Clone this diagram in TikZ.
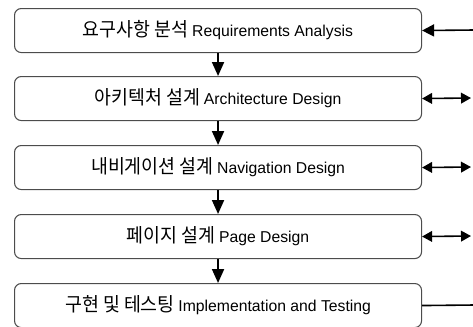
\documentclass[tikz,border=0pt]{standalone}
\usepackage{fontspec}
\setmainfont{Liberation Sans}
\newfontfamily\kr{Noto Sans CJK KR}[FakeStretch=0.95]
\usetikzlibrary{arrows.meta}
\tikzset{
  stagebox/.style={draw=black!70, line width=0.8pt, rounded corners=5pt,
    minimum width=407*0.75pt, minimum height=44*0.75pt, inner sep=0pt,
    anchor=north west},
  vtip/.tip={Triangle[length=10.5pt,width=9pt]},
  stip/.tip={Triangle[length=7.5pt,width=8pt]},
  ltip/.tip={Triangle[length=9pt,width=9pt]},
  flow/.style={draw=black, line width=1.4pt, -vtip},
  side/.style={draw=black, line width=1.2pt},
}
\newcommand{\lbl}[2]{{\kr\fontsize{14.5pt}{16pt}\selectfont #1} {\fontsize{11.8pt}{13pt}\selectfont #2}}
\begin{document}
\begin{tikzpicture}[x=0.75pt,y=-0.75pt]
\useasboundingbox (0,0) rectangle (473,326);
\clip (0,0) rectangle (473,326);
\node[stagebox] (b1) at (14,8) {\lbl{요구사항 분석}{Requirements Analysis}};
\node[stagebox] (b2) at (14,76) {\lbl{아키텍처 설계}{Architecture Design}};
\node[stagebox] (b3) at (14,145) {\lbl{내비게이션 설계}{Navigation Design}};
\node[stagebox] (b4) at (14,214) {\lbl{페이지 설계}{Page Design}};
\node[stagebox] (b5) at (14,283) {\lbl{구현 및 테스팅}{Implementation and Testing}};
\draw[flow] (b1) -- (b2);
\draw[flow] (b2) -- (b3);
\draw[flow] (b3) -- (b4);
\draw[flow] (b4) -- (b5);
\coordinate (r1) at (474,30);
\coordinate (r2) at (471,98);
\coordinate (r3) at (471,167);
\coordinate (r4) at (471,236);
\coordinate (r5) at (474,305);
\draw[side,-ltip] (r1) -- (b1.east);
\draw[side,stip-stip] (b2.east) -- (r2);
\draw[side,stip-stip] (b3.east) -- (r3);
\draw[side,stip-stip] (b4.east) -- (r4);
\draw[side] (b5.east) -- (r5);
\end{tikzpicture}
\end{document}
